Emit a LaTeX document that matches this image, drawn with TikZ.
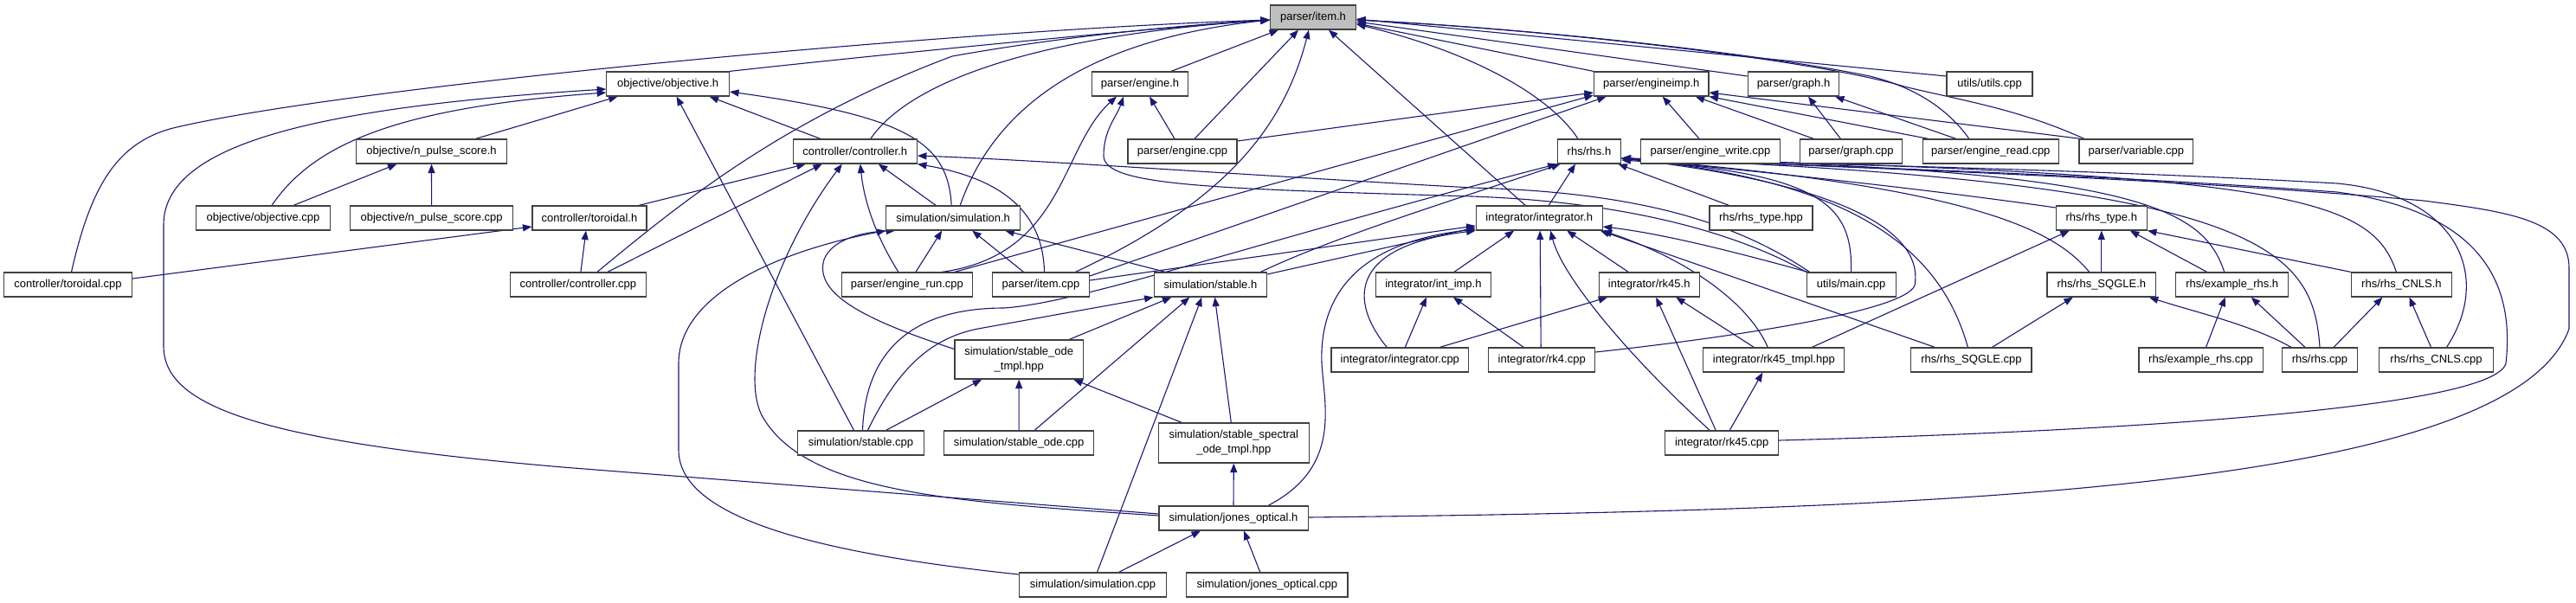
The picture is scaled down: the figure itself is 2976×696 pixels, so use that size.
\documentclass[tikz,border=0pt]{standalone}
\usepackage{fontspec}
\setmainfont{Liberation Sans}
\usetikzlibrary{arrows.meta}
\pgfdeclarelayer{bg}
\pgfsetlayers{bg,main}
\definecolor{edgeblue}{RGB}{25,25,112}
\definecolor{boxgray}{RGB}{64,64,64}
\definecolor{rootfill}{RGB}{191,191,191}
\begin{document}
\begin{tikzpicture}[x=1pt,y=-1pt,
  filebox/.style={draw=boxgray, line width=1.2pt, fill=white, inner sep=0pt, minimum height=28pt, text=black, font=\fontsize{13}{17}\selectfont},
  incl/.style={draw=edgeblue, line width=1.1pt, -{Triangle[length=10.5pt,width=8pt]}}]
\useasboundingbox (0,0) rectangle (2976,696);
% ---- nodes ----
\node[filebox,fill=rootfill,minimum width=99pt] (itemh) at (1517,20) {parser/item.h};
\node[filebox,minimum width=141.6pt] (objh) at (771.6,97) {objective/objective.h};
\node[filebox,minimum width=111pt] (engh) at (1317,97) {parser/engine.h};
\node[filebox,minimum width=132.4pt] (engimph) at (1907.7,97) {parser/engineimp.h};
\node[filebox,minimum width=105.6pt] (graphh) at (2072,97) {parser/graph.h};
\node[filebox,minimum width=99pt] (utilscpp) at (2298.5,97) {utils/utils.cpp};
\node[filebox,minimum width=174pt] (npsh) at (498.5,175) {objective/n\_pulse\_score.h};
\node[filebox,minimum width=143pt] (ctrlh) at (987.8,175) {controller/controller.h};
\node[filebox,minimum width=126pt] (engcpp) at (1366,175) {parser/engine.cpp};
\node[filebox,minimum width=73.5pt] (rhsh) at (1836,175) {rhs/rhs.h};
\node[filebox,minimum width=160.4pt] (engwcpp) at (1976,175) {parser/engine\_write.cpp};
\node[filebox,minimum width=118.6pt] (graphcpp) at (2138.4,175) {parser/graph.cpp};
\node[filebox,minimum width=157.4pt] (engrcpp) at (2299.8,175) {parser/engine\_read.cpp};
\node[filebox,minimum width=131.9pt] (varcpp) at (2467.9,175) {parser/variable.cpp};
\node[filebox,minimum width=155pt] (objcpp) at (304,252) {objective/objective.cpp};
\node[filebox,minimum width=187.5pt] (npscpp) at (498.6,252) {objective/n\_pulse\_score.cpp};
\node[filebox,minimum width=132pt] (torh) at (681,252) {controller/toroidal.h};
\node[filebox,minimum width=154.7pt] (simh) at (1101.2,252) {simulation/simulation.h};
\node[filebox,minimum width=145.8pt] (integh) at (1778.2,252) {integrator/integrator.h};
\node[filebox,minimum width=119pt] (rhstypehpp) at (2034.5,252) {rhs/rhs\_type.hpp};
\node[filebox,minimum width=105pt] (rhstypeh) at (2427.8,252) {rhs/rhs\_type.h};
\node[filebox,minimum width=148pt] (torcpp) at (78.5,329) {controller/toroidal.cpp};
\node[filebox,minimum width=157.6pt] (ctrlcpp) at (667.9,329) {controller/controller.cpp};
\node[filebox,minimum width=150.8pt] (engruncpp) at (1047.9,329) {parser/engine\_run.cpp};
\node[filebox,minimum width=112pt] (itemcpp) at (1202.5,329) {parser/item.cpp};
\node[filebox,minimum width=130.5pt] (stableh) at (1398.4,329) {simulation/stable.h};
\node[filebox,minimum width=133pt] (intimph) at (1655.9,329) {integrator/int\_imp.h};
\node[filebox,minimum width=116pt] (rk45h) at (1905.2,329) {integrator/rk45.h};
\node[filebox,minimum width=103pt] (maincpp) at (2138.6,329) {utils/main.cpp};
\node[filebox,minimum width=125.8pt] (sqgleh) at (2427.8,329) {rhs/rhs\_SQGLE.h};
\node[filebox,minimum width=130pt] (exh) at (2578.7,329) {rhs/example\_rhs.h};
\node[filebox,minimum width=116pt] (cnlsh) at (2774.4,329) {rhs/rhs\_CNLS.h};
\node[filebox,minimum width=148.3pt,minimum height=45pt,align=center] (sodetmpl) at (1177.2,415.5) {simulation/stable\_ode\\\_tmpl.hpp};
\node[filebox,minimum width=158.8pt] (integcpp) at (1617.3,416) {integrator/integrator.cpp};
\node[filebox,minimum width=122.8pt] (rk4cpp) at (1781.2,416) {integrator/rk4.cpp};
\node[filebox,minimum width=163pt] (rk45tmpl) at (2049.3,416) {integrator/rk45\_tmpl.hpp};
\node[filebox,minimum width=139.3pt] (sqglecpp) at (2277.4,416) {rhs/rhs\_SQGLE.cpp};
\node[filebox,minimum width=143.2pt] (excpp) at (2542.5,416) {rhs/example\_rhs.cpp};
\node[filebox,minimum width=86.9pt] (rhscpp) at (2680,416) {rhs/rhs.cpp};
\node[filebox,minimum width=131.5pt] (cnlscpp) at (2814.5,416) {rhs/rhs\_CNLS.cpp};
\node[filebox,minimum width=145.8pt] (stablecpp) at (994.5,512) {simulation/stable.cpp};
\node[filebox,minimum width=173.5pt] (sodecpp) at (1177.1,512) {simulation/stable\_ode.cpp};
\node[filebox,minimum width=173.7pt,minimum height=46pt,align=center] (spectral) at (1425.3,512) {simulation/stable\_spectral\\\_ode\_tmpl.hpp};
\node[filebox,minimum width=130.8pt] (rk45cpp) at (1989.2,512) {integrator/rk45.cpp};
\node[filebox,minimum width=172.2pt] (jonesh) at (1425,599) {simulation/jones\_optical.h};
\node[filebox,minimum width=169.5pt] (simcpp) at (1262.5,676) {simulation/simulation.cpp};
\node[filebox,minimum width=186.3pt] (jonescpp) at (1463.8,676) {simulation/jones\_optical.cpp};
% ---- edges ----
\begin{pgfonlayer}{bg}
\fill[white] (0,0) rectangle (2976,696);
% into parser/item.h
\draw[incl] (objh.north east) .. controls (1000,65) and (1300,35) .. ([yshift=-3pt]itemh.west);
\draw[incl] ([xshift=4pt]torcpp.north) .. controls (105,215) and (135,165) .. (200,148) .. controls (400,100) and (1100,35) .. ([yshift=-3pt]itemh.west);
\draw[incl] ([xshift=18pt]ctrlh.north) .. controls (1040,110) and (1150,45) .. ([yshift=-3pt]itemh.west);
\draw[incl] ([xshift=22pt]ctrlcpp.north) .. controls (780,240) and (900,140) .. (1100,65) .. controls (1250,38) and (1400,27) .. ([yshift=-3pt]itemh.west);
\draw[incl] ([xshift=8pt]simh.north) .. controls (1140,150) and (1220,50) .. ([yshift=-3pt]itemh.west);
\draw[incl] ([xshift=36pt]engh.north) -- ([xshift=-40pt]itemh.south);
\draw[incl] ([xshift=14pt]engcpp.north) -- ([xshift=-17pt]itemh.south);
\draw[incl] ([xshift=40pt]itemcpp.north) .. controls (1400,240) and (1480,160) .. ([xshift=-5pt]itemh.south);
\draw[incl] ([xshift=-16pt]integh.north) -- ([xshift=18pt]itemh.south);
\draw[incl] (engimph.north west) -- ([yshift=-7pt]itemh.east);
\draw[incl] ([yshift=9pt]graphh.west) -- ([yshift=-5pt]itemh.east);
\draw[incl] ([yshift=9pt]utilscpp.west) -- ([yshift=-2pt]itemh.east);
\draw[incl] ([xshift=-13pt]rhsh.north) .. controls (1790,110) and (1700,60) .. ([yshift=-8pt]itemh.east);
\draw[incl] ([xshift=-25pt]engrcpp.north) .. controls (2250,125) and (2210,100) .. (2160,88) .. controls (2050,65) and (1800,35) .. ([yshift=-3pt]itemh.east);
\draw[incl] ([xshift=-60pt]varcpp.north) .. controls (2330,125) and (2260,115) .. (2200,100) .. controls (2100,70) and (1800,35) .. ([yshift=-3pt]itemh.east);
% into objective/objective.h
\draw[incl] ([xshift=10pt]objcpp.north) .. controls (360,170) and (450,125) .. ([yshift=-10pt]objh.west);
\draw[incl] ([yshift=5pt]jonesh.west) -- (650,540) .. controls (300,510) and (189,470) .. (189,400) -- (189,260) .. controls (189,170) and (350,125) .. ([yshift=-6pt]objh.west);
\draw[incl] ([xshift=51pt]npsh.north) -- ([xshift=-58pt]objh.south);
\draw[incl] ([xshift=-8pt]stablecpp.north) -- ([xshift=10pt]objh.south);
\draw[incl] ([xshift=-40pt]ctrlh.north) -- ([xshift=48pt]objh.south);
\draw[incl] ([xshift=-2pt]simh.north) .. controls (1095,165) and (1050,135) .. ([yshift=-9pt]objh.east);
% into objective/n_pulse_score.h
\draw[incl] ([xshift=35pt]objcpp.north) -- ([xshift=-40pt]npsh.south);
\draw[incl] (npscpp.north) -- (npsh.south);
% into controller/controller.h
\draw[incl] ([xshift=57pt]torh.north) -- ([xshift=-57pt]ctrlh.south);
\draw[incl] ([xshift=34pt]ctrlcpp.north) -- ([xshift=-38pt]ctrlh.south);
\draw[incl] ([yshift=3pt]jonesh.west) .. controls (1100,580) and (930,570) .. (880,480) .. controls (855,430) and (890,300) .. ([xshift=-15pt]ctrlh.south);
\draw[incl] ([xshift=-10pt]engruncpp.north) .. controls (1010,270) and (998,230) .. ([xshift=6pt]ctrlh.south);
\draw[incl] ([xshift=-20pt]simh.north) -- ([xshift=27pt]ctrlh.south);
\draw[incl] ([xshift=-48pt]maincpp.north) .. controls (2010,260) and (1900,222) .. (1700,217) .. controls (1400,200) and (1200,185) .. ([yshift=-5pt]ctrlh.east);
\draw[incl] ([xshift=4pt]itemcpp.north) .. controls (1205,240) and (1150,205) .. (ctrlh.south east);
% into controller/toroidal.h
\draw[incl] ([yshift=7pt]torcpp.east) -- ([yshift=-10pt]torh.west);
\draw[incl] ([xshift=3pt]ctrlcpp.north) -- ([xshift=-4pt]torh.south);
% into parser/engine.h
\draw[incl] ([xshift=-9pt]engcpp.north) -- ([xshift=11pt]engh.south);
\draw[incl] ([xshift=40pt]engruncpp.north) .. controls (1230,295) and (1225,170) .. ([xshift=-27pt]engh.south);
\draw[incl] ([xshift=-52pt]maincpp.north) .. controls (1990,260) and (1850,232) .. (1700,227) .. controls (1400,218) and (1275,215) .. (1275,180) .. controls (1275,150) and (1290,135) .. ([xshift=-19pt]engh.south);
% into parser/engineimp.h
\draw[incl] ([yshift=12pt]engcpp.east) -- ([yshift=-10pt]engimph.west);
\draw[incl] ([xshift=55pt]engruncpp.north) -- ([yshift=-13pt]engimph.west);
\draw[incl] ([yshift=10pt]itemcpp.east) -- ([xshift=-52pt]engimph.south);
\draw[incl] ([xshift=-13pt]engwcpp.north) -- ([xshift=13pt]engimph.south);
\draw[incl] ([xshift=-43pt]graphcpp.north) -- ([xshift=51pt]engimph.south);
\draw[incl] ([xshift=-72pt]engrcpp.north) -- (engimph.south east);
\draw[incl] ([xshift=-64pt]varcpp.north) -- ([yshift=-10pt]engimph.east);
% into parser/graph.h
\draw[incl] ([xshift=-12pt]graphcpp.north) -- ([xshift=17pt]graphh.south);
\draw[incl] ([xshift=-40pt]engrcpp.north) -- ([xshift=48pt]graphh.south);
% into simulation/simulation.h
\draw[incl] ([xshift=-20pt]itemcpp.north) -- ([xshift=22pt]simh.south);
\draw[incl] ([xshift=10pt]engruncpp.north) -- ([xshift=-13pt]simh.south);
\draw[incl] ([xshift=-52pt]stableh.north) -- ([xshift=60pt]simh.south);
\draw[incl] ([yshift=12pt]sodetmpl.west) .. controls (1000,370) and (940,340) .. (952,300) .. controls (962,275) and (1000,268) .. ([xshift=-67pt]simh.south);
\draw[incl] ([yshift=12pt]simcpp.west) .. controls (950,640) and (784,600) .. (784,520) -- (784,420) .. controls (784,340) and (900,290) .. (simh.south west);
% into simulation/stable.h
\draw[incl] ([xshift=8pt]stablecpp.north) .. controls (1040,420) and (1080,390) .. (1130,380) -- (stableh.south west);
\draw[incl] ([xshift=58pt]sodetmpl.north) -- ([xshift=-45pt]stableh.south);
\draw[incl] ([xshift=18pt]sodecpp.north) -- ([xshift=-24pt]stableh.south);
\draw[incl] ([xshift=5pt]simcpp.north) -- ([xshift=-10pt]stableh.south);
\draw[incl] ([xshift=-3pt]spectral.north) -- ([xshift=5pt]stableh.south);
% into simulation/stable_ode_tmpl.hpp
\draw[incl] ([xshift=29pt]stablecpp.north) -- ([xshift=-43pt]sodetmpl.south);
\draw[incl] (sodecpp.north) -- (sodetmpl.south);
\draw[incl] ([xshift=-60pt]spectral.north) -- ([xshift=63pt]sodetmpl.south);
% spectral, jones_optical.h
\draw[incl] (jonesh.north) -- (spectral.south);
\draw[incl] ([xshift=30pt]simcpp.north) -- ([xshift=-38pt]jonesh.south);
\draw[incl] ([xshift=-8pt]jonescpp.north) -- ([xshift=12pt]jonesh.south);
% into integrator/integrator.h
\draw[incl] ([yshift=5pt]itemcpp.east) -- ([yshift=-9pt]integh.west);
\draw[incl] ([yshift=12pt]stableh.east) -- ([yshift=-11pt]integh.west);
\draw[incl] ([xshift=40pt]jonesh.north) .. controls (1550,540) and (1530,470) .. (1527,420) .. controls (1524,340) and (1570,280) .. ([yshift=-13pt]integh.west);
\draw[incl] ([xshift=-15pt]integcpp.north) .. controls (1560,350) and (1555,285) .. (integh.south west);
\draw[incl] ([xshift=24pt]intimph.north) -- ([xshift=-29pt]integh.south);
\draw[incl] ([xshift=-1pt]rk4cpp.north) -- ([xshift=1pt]integh.south);
\draw[incl] ([xshift=-14pt]rk45cpp.north) .. controls (1880,410) and (1805,320) .. ([xshift=13pt]integh.south);
\draw[incl] ([xshift=-24pt]rk45h.north) -- ([xshift=32pt]integh.south);
\draw[incl] ([xshift=-50pt]maincpp.north) .. controls (2000,290) and (1920,270) .. ([yshift=-10pt]integh.east);
\draw[incl] ([xshift=-7pt]rk45tmpl.north) .. controls (2020,350) and (1950,300) .. (integh.south east);
\draw[incl] ([xshift=-42pt]sqglecpp.north) -- ([xshift=-3pt]integh.south east);
% into integrator/int_imp.h
\draw[incl] ([xshift=6pt]integcpp.north) -- ([xshift=-8pt]intimph.south);
\draw[incl] ([xshift=-21pt]rk4cpp.north) -- ([xshift=23pt]intimph.south);
% into integrator/rk45.h
\draw[incl] ([xshift=46pt]integcpp.north) -- ([xshift=-48pt]rk45h.south);
\draw[incl] ([xshift=-7pt]rk45cpp.north) -- ([xshift=8pt]rk45h.south);
\draw[incl] ([xshift=-23pt]rk45tmpl.north) -- ([xshift=31pt]rk45h.south);
% into integrator/rk45_tmpl.hpp
\draw[incl] ([xshift=9pt]rk45cpp.north) -- ([xshift=-13pt]rk45tmpl.south);
% into rhs/rhs.h
\draw[incl] ([xshift=11pt]integh.north) -- ([xshift=-16pt]rhsh.south);
\draw[incl] ([xshift=2pt]stablecpp.north) .. controls (1000,400) and (1060,356) .. (1160,356) .. controls (1250,350) and (1450,280) .. (rhsh.south west);
\draw[incl] ([xshift=-8pt]stableh.north east) .. controls (1550,270) and (1700,225) .. ([xshift=4pt]rhsh.south west);
\draw[incl] ([xshift=-37pt]rhstypehpp.north) -- ([xshift=-4pt]rhsh.south east);
\draw[incl] ([yshift=12pt]rhstypeh.west) .. controls (2200,215) and (2000,195) .. ([yshift=-8pt]rhsh.east);
\draw[incl] (maincpp.north) .. controls (2140,240) and (2110,200) .. ([yshift=-10pt]rhsh.east);
\draw[incl] ([xshift=-14pt]sqgleh.north) .. controls (2380,275) and (2310,218) .. ([yshift=-8pt]rhsh.east);
\draw[incl] ([xshift=-9pt]exh.north) .. controls (2545,240) and (2470,195) .. ([yshift=-8pt]rhsh.east);
\draw[incl] ([xshift=-6pt]cnlsh.north) .. controls (2740,230) and (2650,200) .. ([yshift=-8pt]rhsh.east);
\draw[incl] (rhscpp.north) .. controls (2672,290) and (2620,210) .. ([yshift=-8pt]rhsh.east);
\draw[incl] ([xshift=12pt]cnlscpp.north) .. controls (2880,320) and (2840,225) .. (2700,212) .. controls (2400,195) and (2100,190) .. ([yshift=-8pt]rhsh.east);
\draw[incl] ([xshift=-4pt]sqglecpp.north) .. controls (2245,300) and (2160,210) .. ([yshift=-8pt]rhsh.east);
\draw[incl] ([yshift=9pt]rk4cpp.east) .. controls (2000,390) and (2200,360) .. (2212,330) .. controls (2222,275) and (2150,215) .. ([yshift=-8pt]rhsh.east);
\draw[incl] ([yshift=3pt]rk45cpp.east) .. controls (2400,500) and (2880,475) .. (2895,420) .. controls (2905,330) and (2870,245) .. (2700,222) .. controls (2400,200) and (2100,192) .. ([yshift=-8pt]rhsh.east);
\draw[incl] ([yshift=1pt]jonesh.east) .. controls (2200,590) and (2900,570) .. (2968,380) -- (2968,310) .. controls (2968,255) and (2900,245) .. (2800,232) .. controls (2500,205) and (2100,192) .. ([yshift=-8pt]rhsh.east);
% into rhs/rhs_type.h
\draw[incl] (sqgleh.north) -- (rhstypeh.south);
\draw[incl] ([xshift=-29pt]exh.north) -- ([xshift=33pt]rhstypeh.south);
\draw[incl] (cnlsh.north west) -- (rhstypeh.south east);
\draw[incl] ([xshift=44pt]rk45tmpl.north) -- ([xshift=-37pt]rhstypeh.south);
% into rhs/rhs_SQGLE.h
\draw[incl] ([xshift=24pt]sqglecpp.north) -- ([xshift=-33pt]sqgleh.south);
\draw[incl] ([xshift=-33pt]rhscpp.north) .. controls (2600,375) and (2540,362) .. ([xshift=55pt]sqgleh.south);
% into rhs/example_rhs.h
\draw[incl] ([xshift=6pt]excpp.north) -- ([xshift=-8pt]exh.south);
\draw[incl] ([xshift=-17pt]rhscpp.north) -- ([xshift=22pt]exh.south);
% into rhs/rhs_CNLS.h
\draw[incl] ([xshift=16pt]rhscpp.north) -- ([xshift=-22pt]cnlsh.south);
\draw[incl] ([xshift=-6pt]cnlscpp.north) -- ([xshift=9pt]cnlsh.south);
\end{pgfonlayer}
\end{tikzpicture}
\end{document}
